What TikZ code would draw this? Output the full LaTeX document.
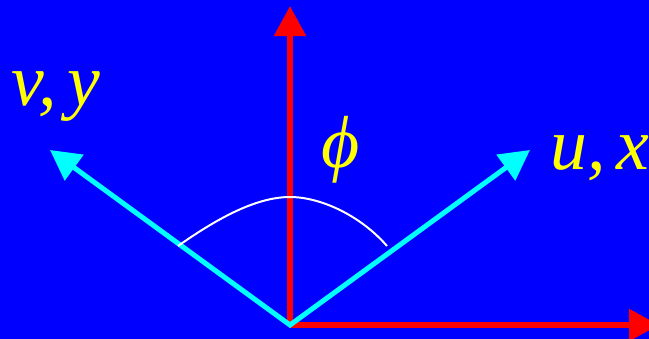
\documentclass[tikz,border=0pt]{standalone}
\usepackage{fontspec}
\setmainfont{Liberation Serif}
\usetikzlibrary{arrows.meta}
\definecolor{bgblue}{RGB}{0,0,255}
\definecolor{axisred}{RGB}{255,0,0}
\definecolor{axiscyan}{RGB}{0,255,255}
\definecolor{labelyellow}{RGB}{255,255,0}

\begin{document}
\begin{tikzpicture}[x=0.03cm, y=-0.03cm,
    >={Triangle[length=0.9cm, width=0.93cm]},
    redaxis/.style={draw=axisred, line width=0.165cm, ->},
    cyanaxis/.style={draw=axiscyan, line width=0.15cm, line join=miter, <->},
    anglearc/.style={draw=white, line width=0.06cm},
    axislabel/.style={text=labelyellow, inner sep=0pt,
                      font=\fontsize{63}{63}\selectfont\itshape}]
  \fill[bgblue] (0,0) rectangle (649,339);
  \useasboundingbox (0,0) rectangle (649,339);
  \clip (0,0) rectangle (649,339);

  \coordinate (o) at (290,325);
  \coordinate (ytip) at (290,6);
  \coordinate (xtip) at (659,325);
  \coordinate (vtip) at (50,150);
  \coordinate (utip) at (530,150);
  \coordinate (arcl) at (178,246);
  \coordinate (arct) at (290,197);
  \coordinate (arcr) at (387,246);

  \draw[redaxis] (o) -- (ytip);
  \draw[redaxis] (o) -- (xtip);
  \draw[cyanaxis] (vtip) -- (o) -- (utip);
  \draw[anglearc] (arcl) .. controls (215,220) and (255,197) .. (arct)
                         .. controls (320,197) and (360,215) .. (arcr);

  \node[axislabel, anchor=base west] (vy) at (11,105) {v,\hspace{0.15em}y};
  \node[axislabel, anchor=base west] (ux) at (550,169) {u,\hspace{0.15em}x};
  \node[axislabel] (phi) at (341,150) {ϕ};
\end{tikzpicture}
\end{document}
